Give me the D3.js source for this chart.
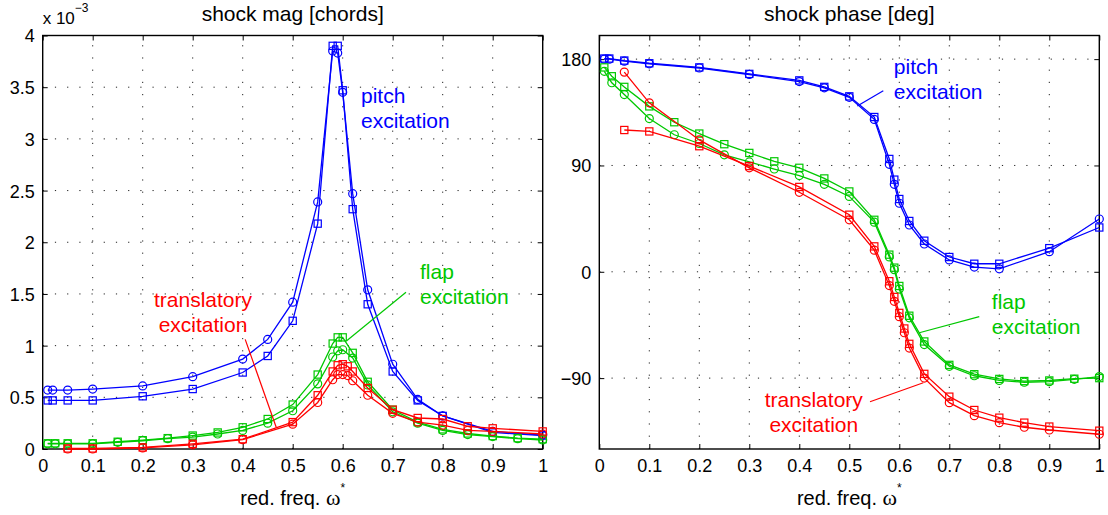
<!DOCTYPE html>
<html>
<head>
<meta charset="utf-8">
<script src="https://cdn.jsdelivr.net/npm/d3@7"></script>
<style>
  body { margin: 0; background: #fff; }
  text { font-family: "Liberation Sans", Arial, sans-serif; }
</style>
</head>
<body>
<svg id="fig" width="1108" height="515"></svg>
<script>
// ---- data ----
const pitchFreq = [0.01, 0.02, 0.05, 0.1, 0.2, 0.3, 0.4, 0.45, 0.5, 0.55, 0.58, 0.59, 0.6, 0.62, 0.65, 0.7, 0.75, 0.8, 0.9, 1.0];
const pitchMagCirc = [0.57, 0.57, 0.57, 0.58, 0.61, 0.70, 0.87, 1.06, 1.42, 2.39, 3.85, 3.83, 3.45, 2.47, 1.54, 0.82, 0.48, 0.32, 0.17, 0.135];
const pitchMagSq   = [0.47, 0.47, 0.47, 0.47, 0.51, 0.58, 0.74, 0.90, 1.24, 2.18, 3.90, 3.90, 3.47, 2.32, 1.40, 0.75, 0.47, 0.32, 0.16, 0.13];
const pitchPhaseCirc = [180, 180, 178.3, 176, 172.5, 167, 161, 155.7, 147.7, 129, 91, 74, 58, 39.6, 23.5, 10, 4, 2.5, 17, 44.7];
const pitchPhaseSq   = [180.5, 180.5, 178.8, 176.5, 173, 167.5, 162, 156.5, 148.5, 131, 95.5, 78, 61.6, 43, 26.3, 12.5, 6.8, 6.8, 20, 37.5];

const flapFreq = [0.01, 0.025, 0.05, 0.1, 0.15, 0.2, 0.25, 0.3, 0.35, 0.4, 0.45, 0.5, 0.55, 0.58, 0.59, 0.6, 0.62, 0.65, 0.7, 0.75, 0.8, 0.85, 0.9, 0.95, 1.0];
const flapMagCirc = [0.05, 0.05, 0.05, 0.05, 0.065, 0.08, 0.10, 0.115, 0.145, 0.18, 0.25, 0.37, 0.63, 0.89, 0.95, 0.96, 0.88, 0.62, 0.36, 0.25, 0.18, 0.14, 0.12, 0.10, 0.087];
const flapMagSq   = [0.055, 0.055, 0.055, 0.055, 0.07, 0.085, 0.105, 0.13, 0.16, 0.21, 0.29, 0.43, 0.72, 1.02, 1.08, 1.08, 0.93, 0.65, 0.38, 0.26, 0.19, 0.15, 0.125, 0.105, 0.095];
const flapPhaseCirc = [169.7, 160, 150, 129.7, 116, 108.6, 99, 93, 87, 81.4, 74, 63.8, 42, 12.6, 1.8, -14.6, -39, -61.6, -80, -88, -92, -93.5, -93, -91, -88.7];
const flapPhaseSq   = [173, 165.5, 156.5, 140, 126.6, 117, 108, 100.6, 93.5, 88, 79, 68, 44, 14.5, 3.5, -12, -37.2, -59, -78.8, -86.7, -90.7, -92.5, -92, -90.5, -90];

const translFreq = [0.05, 0.1, 0.2, 0.3, 0.4, 0.5, 0.55, 0.58, 0.59, 0.6, 0.61, 0.62, 0.65, 0.7, 0.75, 0.8, 0.85, 0.9, 1.0];
const translMagCirc = [0.0, 0.0, 0.01, 0.04, 0.09, 0.24, 0.45, 0.67, 0.72, 0.72, 0.71, 0.66, 0.52, 0.345, 0.26, 0.23, 0.18, 0.17, 0.145];
const translMagSq   = [0.005, 0.005, 0.015, 0.05, 0.095, 0.26, 0.52, 0.75, 0.81, 0.82, 0.80, 0.75, 0.59, 0.38, 0.30, 0.29, 0.22, 0.20, 0.17];
const translPhaseCirc = [169, 143, 111.6, 88, 67.3, 44, 18.3, -11.7, -25, -38, -51.6, -64.6, -90, -110.8, -121.8, -127.7, -131.6, -133.9, -137.5];
const translPhaseSq   = [120, 118.8, 106.3, 89.5, 71.8, 48.3, 21.5, -8, -21.3, -34.8, -48, -61, -86.4, -105.7, -117, -123.5, -127.7, -131, -134.5];

const xTicks = [0, 0.1, 0.2, 0.3, 0.4, 0.5, 0.6, 0.7, 0.8, 0.9, 1];
const magTicks = [0, 0.5, 1, 1.5, 2, 2.5, 3, 3.5, 4];
const phaseTicks = [-90, 0, 90, 180];

const colors = { pitch: '#0000ff', flap: '#00c800', transl: '#ff0000' };

// ---- layout ----
const svg = d3.select('#fig');
svg.append('rect').attr('width', 1108).attr('height', 515).attr('fill', '#fff');

const panels = [
  {
    left: 42.7, right: 542.7, top: 35.5, bottom: 449,
    ydomain: [0, 4], yticks: magTicks, fmt: d => String(d),
    title: 'shock mag [chords]',
    series: [
      {c: colors.pitch, f: pitchFreq, circ: pitchMagCirc, sq: pitchMagSq},
      {c: colors.flap, f: flapFreq, circ: flapMagCirc, sq: flapMagSq},
      {c: colors.transl, f: translFreq, circ: translMagCirc, sq: translMagSq}
    ],
    notes: [
      {c: colors.pitch, x: 0.6366, y: 3.35, anchor: 'start', lines: ['pitch', 'excitation']},
      {c: colors.transl, x: 0.3206, y: 1.374, anchor: 'middle', lines: ['translatory', 'excitation'],
       arrow: [[0.405, 1.06], [0.467, 0.21]]},
      {c: colors.flap, x: 0.7546, y: 1.642, anchor: 'start', lines: ['flap', 'excitation'],
       arrow: [[0.7266, 1.516], [0.608, 1.048]]}
    ]
  },
  {
    left: 599.3, right: 1099.3, top: 35.5, bottom: 449,
    ydomain: [-150, 200], yticks: phaseTicks, fmt: d => d < 0 ? '\u2212' + Math.abs(d) : String(d),
    title: 'shock phase [deg]',
    series: [
      {c: colors.pitch, f: pitchFreq, circ: pitchPhaseCirc, sq: pitchPhaseSq},
      {c: colors.flap, f: flapFreq, circ: flapPhaseCirc, sq: flapPhaseSq},
      {c: colors.transl, f: translFreq, circ: translPhaseCirc, sq: translPhaseSq}
    ],
    notes: [
      {c: colors.pitch, x: 0.589, y: 167.4, anchor: 'start', lines: ['pitch', 'excitation'],
       arrow: [[0.568, 153.3], [0.516, 140.3]]},
      {c: colors.flap, x: 0.785, y: -31.8, anchor: 'start', lines: ['flap', 'excitation'],
       arrow: [[0.76, -38], [0.64, -51.6]]},
      {c: colors.transl, x: 0.429, y: -114.2, anchor: 'middle', lines: ['translatory', 'excitation'],
       arrow: [[0.5414, -110], [0.648, -93.9]]}
    ]
  }
];

panels.forEach(p => {
  const x = d3.scaleLinear().domain([0, 1]).range([p.left, p.right]);
  const y = d3.scaleLinear().domain(p.ydomain).range([p.bottom, p.top]);
  const g = svg.append('g');

  // dotted grid
  const grid = g.append('g').attr('stroke', '#222').attr('stroke-width', 1)
    .attr('stroke-dasharray', '1.2,11');
  xTicks.filter(t => t > 0 && t < 1).forEach(t => {
    grid.append('line').attr('x1', x(t)).attr('x2', x(t))
      .attr('y1', p.bottom).attr('y2', p.top);
  });
  p.yticks.filter(t => y(t) < p.bottom - 1 && y(t) > p.top + 1).forEach(t => {
    grid.append('line').attr('x1', p.left).attr('x2', p.right)
      .attr('y1', y(t)).attr('y2', y(t));
  });

  // axes, ticks pointing inward
  const axFont = 18;
  g.append('g').attr('transform', `translate(0,${p.bottom})`)
    .call(d3.axisBottom(x).tickValues(xTicks).tickSize(-5).tickSizeOuter(0).tickPadding(10)
      .tickFormat(d => String(d)));
  const leftAx = g.append('g').attr('transform', `translate(${p.left},0)`)
    .call(d3.axisLeft(y).tickValues(p.yticks).tickSize(-5).tickSizeOuter(0).tickPadding(8)
      .tickFormat(p.fmt));
  g.append('g').attr('transform', `translate(0,${p.top})`)
    .call(d3.axisTop(x).tickValues(xTicks).tickSize(-5).tickSizeOuter(0).tickFormat(''));
  g.append('g').attr('transform', `translate(${p.right},0)`)
    .call(d3.axisRight(y).tickValues(p.yticks).tickSize(-5).tickSizeOuter(0).tickFormat(''));
  g.selectAll('.domain').remove();
  g.selectAll('.tick line').attr('stroke', '#000').attr('stroke-width', 1);
  g.selectAll('.tick text').attr('font-size', axFont).attr('fill', '#000')
    .attr('font-family', '"Liberation Sans", Arial, sans-serif');
  leftAx.selectAll('.tick text').attr('dy', '0.36em');

  g.append('rect').attr('x', p.left).attr('y', p.top)
    .attr('width', p.right - p.left).attr('height', p.bottom - p.top)
    .attr('fill', 'none').attr('stroke', '#000').attr('stroke-width', 1.4);

  // curves with markers
  const line = d3.line().x(d => x(d[0])).y(d => y(d[1]));
  p.series.forEach(s => {
    [['circ', s.circ], ['sq', s.sq]].forEach(([kind, vals]) => {
      const pts = s.f.map((f, i) => [f, vals[i]]);
      g.append('path').datum(pts).attr('d', line)
        .attr('fill', 'none').attr('stroke', s.c).attr('stroke-width', 1.3);
      const mk = g.append('g').attr('fill', 'none').attr('stroke', s.c).attr('stroke-width', 1.2);
      if (kind === 'circ') {
        mk.selectAll('circle').data(pts).enter().append('circle')
          .attr('cx', d => x(d[0])).attr('cy', d => y(d[1])).attr('r', 4);
      } else {
        mk.selectAll('rect').data(pts).enter().append('rect')
          .attr('x', d => x(d[0]) - 3.6).attr('y', d => y(d[1]) - 3.6)
          .attr('width', 7.2).attr('height', 7.2);
      }
    });
  });

  // annotations
  p.notes.forEach(n => {
    if (n.arrow) {
      g.append('line')
        .attr('x1', x(n.arrow[0][0])).attr('y1', y(n.arrow[0][1]))
        .attr('x2', x(n.arrow[1][0])).attr('y2', y(n.arrow[1][1]))
        .attr('stroke', n.c).attr('stroke-width', 1.2);
    }
    const t = g.append('text').attr('x', x(n.x)).attr('y', y(n.y))
      .attr('fill', n.c).attr('font-size', 21).attr('text-anchor', n.anchor);
    n.lines.forEach((l, i) => {
      t.append('tspan').attr('x', x(n.x)).attr('dy', i === 0 ? 0 : 25).text(l);
    });
  });

  // title and x label
  const cx = (p.left + p.right) / 2;
  g.append('text').attr('x', cx).attr('y', 21).attr('text-anchor', 'middle')
    .attr('font-size', 21).text(p.title);
  const xl = g.append('text').attr('x', cx).attr('y', 505).attr('text-anchor', 'middle')
    .attr('font-size', 20);
  xl.append('tspan').text('red. freq. ');
  xl.append('tspan').attr('font-family', '"Liberation Serif", "DejaVu Serif", serif')
    .attr('font-size', 22).text('\u03c9');
  xl.append('tspan').attr('font-size', 12).attr('dy', -13).text('*');
});

// exponent label of the magnitude axis
const ex = svg.append('text').attr('x', 42.7).attr('y', 24).attr('font-size', 17);
ex.append('tspan').text('x 10');
ex.append('tspan').attr('font-size', 12).attr('dy', -12).text('\u22123');
</script>
</body>
</html>
